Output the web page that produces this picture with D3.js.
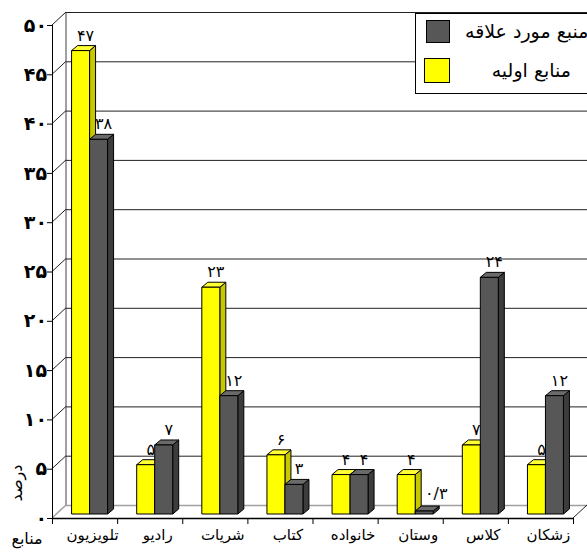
<!DOCTYPE html>
<html>
<head>
<meta charset="utf-8">
<script src="https://cdn.jsdelivr.net/npm/d3@7"></script>
<style>
  html, body { margin: 0; padding: 0; background: #fff; }
  svg { display: block; font-family: "DejaVu Sans", sans-serif; }
</style>
</head>
<body>
<svg id="chart" width="587" height="553"></svg>
<script>
// Category names along the floor of the chart
const categories = ["تلویزیون", "رادیو", "شریات", "کتاب", "خانواده", "وستان", "کلاس", "زشکان"];
// Primary sources (%)
const primaryValues = [47, 5, 23, 6, 4, 4, 7, 5];
// Favourite sources (%)
const favoriteValues = [38, 7, 12, 3, 4, 0.3, 24, 12];
// Value axis ticks
const yTicks = [0, 5, 10, 15, 20, 25, 30, 35, 40, 45, 50];
// Series names shown in the legend
const seriesNames = ["منبع مورد علاقه", "منابع اولیه"];

const svg = d3.select("#chart");

// Persian digits with "/" as the decimal separator
const fa = v => String(v).replace(".", "/").replace(/\d/g, d => "۰۱۲۳۴۵۶۷۸۹"[d]);

const x = d3.scaleBand().domain(categories).range([52, 573]).padding(0);
const y = d3.scaleLinear().domain([0, 50]).range([518, 25]);
const s = d3.scaleBand().domain(["primary", "favorite"]).range([0, 36]);

// 3D offsets: whole plot depth, bar placement inside the depth, and bar thickness
const wall = { dx: 14, dy: -13 };
const barShift = { dx: 5, dy: -4 };
const barDepth = { dx: 6, dy: -5 };

const x0 = 52, x1 = 573;

// Left wall vertical edge and back wall gridlines
const grid = svg.append("g");
grid.append("line")
  .attr("x1", x0 + wall.dx).attr("x2", x0 + wall.dx)
  .attr("y1", y(0) + wall.dy).attr("y2", y(50) + wall.dy)
  .attr("stroke", "#a0a0a0").attr("stroke-width", 2);

yTicks.forEach(t => {
  const isFloor = t === 0;
  grid.append("line")
    .attr("x1", x0 + wall.dx).attr("x2", 600)
    .attr("y1", y(t) + wall.dy + 0.5).attr("y2", y(t) + wall.dy + 0.5)
    .attr("stroke", isFloor ? "#a0a0a0" : "#222")
    .attr("stroke-width", isFloor ? 1.5 : 1);
  grid.append("line")
    .attr("x1", x0).attr("y1", y(t))
    .attr("x2", x0 + wall.dx).attr("y2", y(t) + wall.dy)
    .attr("stroke", isFloor ? "#a0a0a0" : "#222")
    .attr("stroke-width", isFloor ? 1.5 : 1);
});

// Floor right edge
grid.append("line")
  .attr("x1", x1).attr("y1", y(0))
  .attr("x2", x1 + wall.dx).attr("y2", y(0) + wall.dy)
  .attr("stroke", "#222");

// Bars
const palette = {
  primary: { front: "#ffff00", top: "#ffff33", side: "#c8c800" },
  favorite: { front: "#575757", top: "#6a6a6a", side: "#3c3c3c" }
};

const bars = svg.append("g");
const labels = svg.append("g")
  .attr("font-size", 16).attr("fill", "#000").attr("text-anchor", "middle");

categories.forEach((c, i) => {
  [["primary", primaryValues[i]], ["favorite", favoriteValues[i]]].forEach(([key, v]) => {
    const bx = x(c) + x.bandwidth() / 2 - s.range()[1] / 2 + barShift.dx + s(key);
    const w = s.bandwidth();
    const yt = y(v) + barShift.dy;
    const yb = y(0) + barShift.dy;
    const col = palette[key];
    const g = bars.append("g").attr("stroke", "#000").attr("stroke-width", 1)
      .attr("stroke-linejoin", "round");
    // side face
    g.append("path")
      .attr("d", `M${bx + w},${yt}L${bx + w + barDepth.dx},${yt + barDepth.dy}L${bx + w + barDepth.dx},${yb + barDepth.dy}L${bx + w},${yb}Z`)
      .attr("fill", col.side);
    // top face
    g.append("path")
      .attr("d", `M${bx},${yt}L${bx + barDepth.dx},${yt + barDepth.dy}L${bx + w + barDepth.dx},${yt + barDepth.dy}L${bx + w},${yt}Z`)
      .attr("fill", col.top);
    // front face
    g.append("rect")
      .attr("x", bx).attr("y", yt).attr("width", w).attr("height", yb - yt)
      .attr("fill", col.front);
    // value label (very short bars get it beside the top instead of above)
    const tiny = yb - yt < 8;
    labels.append("text")
      .attr("x", bx + w / 2 + (tiny ? 12 : 5))
      .attr("y", yt - (tiny ? 12 : 10))
      .text(fa(v));
  });
});

// Value axis (front left edge)
const axis = svg.append("g");
axis.append("line")
  .attr("x1", x0 + 0.5).attr("x2", x0 + 0.5)
  .attr("y1", y(0)).attr("y2", y(50))
  .attr("stroke", "#000");
yTicks.forEach(t => {
  axis.append("line")
    .attr("x1", x0 - 5).attr("x2", x0)
    .attr("y1", y(t) + 0.5).attr("y2", y(t) + 0.5)
    .attr("stroke", "#000");
  axis.append("text")
    .attr("x", x0 - 5).attr("y", y(t))
    .attr("dy", "0.35em")
    .attr("text-anchor", "end")
    .attr("font-size", 19).attr("font-weight", "bold")
    .text(fa(t));
});

// Category axis (front floor edge)
axis.append("line")
  .attr("x1", x0).attr("x2", x1)
  .attr("y1", y(0) + 0.5).attr("y2", y(0) + 0.5)
  .attr("stroke", "#000").attr("stroke-width", 1.5);
[...categories.map(c => x(c)), x1].forEach(px => {
  axis.append("line")
    .attr("x1", px + 0.5).attr("x2", px + 0.5)
    .attr("y1", y(0)).attr("y2", y(0) + 6)
    .attr("stroke", "#000");
});
categories.forEach(c => {
  axis.append("text")
    .attr("x", x(c) + x.bandwidth() / 2 + 8)
    .attr("y", y(0) + 22)
    .attr("text-anchor", "middle")
    .attr("font-size", 15)
    .text(c);
});

// Axis titles
svg.append("text")
  .attr("transform", "translate(22,483) rotate(-90)")
  .attr("text-anchor", "middle")
  .attr("font-size", 16)
  .text("درصد");
svg.append("text")
  .attr("x", 27).attr("y", 544)
  .attr("text-anchor", "middle")
  .attr("font-size", 16)
  .text("منابع");

// Legend
const legend = svg.append("g");
legend.append("rect")
  .attr("x", 415.5).attr("y", 13.5).attr("width", 200).attr("height", 80)
  .attr("fill", "#fff").attr("stroke", "#000");
legend.append("rect")
  .attr("x", 426.5).attr("y", 20.5).attr("width", 23).attr("height", 22)
  .attr("fill", palette.favorite.front).attr("stroke", "#000");
legend.append("rect")
  .attr("x", 424.5).attr("y", 58.5).attr("width", 25).attr("height", 24)
  .attr("fill", palette.primary.front).attr("stroke", "#000");
legend.append("text")
  .attr("x", 465).attr("y", 38)
  .attr("font-size", 19)
  .attr("text-anchor", "start")
  .text(seriesNames[0]);
legend.append("text")
  .attr("x", 571).attr("y", 77)
  .attr("font-size", 19)
  .attr("text-anchor", "end")
  .text(seriesNames[1]);
</script>
</body>
</html>
